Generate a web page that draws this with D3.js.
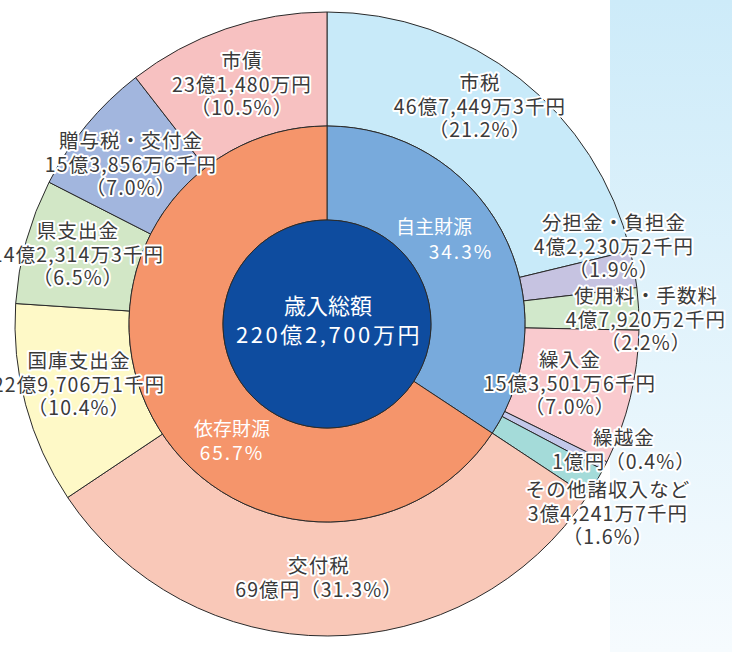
<!DOCTYPE html>
<html><head><meta charset="utf-8">
<script src="https://cdn.jsdelivr.net/npm/d3@7"></script>
<style>body{margin:0;background:#fff;} svg{display:block}</style>
</head><body><svg id="c" width="732" height="652"></svg>
<script>
// ---- data ----
const groups = ["自主財源", "依存財源"];
const groupPct = ["34.3%", "65.7%"];
const items = ["市税", "分担金・負担金", "使用料・手数料", "繰入金", "繰越金", "その他諸収入など",
               "交付税", "国庫支出金", "県支出金", "贈与税・交付金", "市債"];
const itemGroup = [0, 0, 0, 0, 0, 0, 1, 1, 1, 1, 1];
// values in 万円
const values = [467449.3, 42230.2, 47920.2, 153501.6, 10000, 34241.7,
                690000, 229706.1, 142314.3, 153856.6, 231480];
const amountLabels = ["46億7,449万3千円", "4億2,230万2千円", "4億7,920万2千円", "15億3,501万6千円", "1億円", "3億4,241万7千円",
                      "69億円", "22億9,706万1千円", "14億2,314万3千円", "15億3,856万6千円", "23億1,480万円"];
const pctLabels = ["21.2%", "1.9%", "2.2%", "7.0%", "0.4%", "1.6%", "31.3%", "10.4%", "6.5%", "7.0%", "10.5%"];
const totalLabel = ["歳入総額", "220億2,700万円"];

// ---- layout / style ----
const W = 732, H = 652, cx = 327, cy = 324;
const R0 = 104, R1 = 198, R2 = 312;
const itemColors = ["#c8eaf9", "#c6c3e1", "#d1e8cb", "#f9cace", "#c3c8ea", "#a4dbd9",
                    "#f9c8b8", "#fef9c7", "#d2e7c6", "#a2b6de", "#f7c1c1"];
const groupColors = ["#78aadc", "#f5956b"];
const centerColor = "#0e4c9f";
// label anchor (center x, first baseline y) and whether amount+pct share one line
const labelLayout = [
  [480, 90, false], [614, 230, false], [646, 303, false], [570, 367, false], [624, 445, true], [608, 497, false],
  [319, 573, true], [79, 368, false], [78, 238, false], [131, 148, false], [242, 68, false]
];
const groupLabelLayout = [[434, 234, 461, 259], [232, 436, 232, 460]];
const LH = 23.5;
const FONT = "'Noto Sans CJK JP','Noto Sans',sans-serif";

const svg = d3.select("#c");
const defs = svg.append("defs");
const grad = defs.append("linearGradient").attr("id", "bg").attr("x1", 0).attr("y1", 0).attr("x2", 0).attr("y2", 1);
grad.append("stop").attr("offset", "0%").attr("stop-color", "#cdebf9");
grad.append("stop").attr("offset", "100%").attr("stop-color", "#f6fbfe");
svg.append("rect").attr("width", W).attr("height", H).attr("fill", "#fff");
svg.append("rect").attr("x", 610).attr("y", 0).attr("width", W - 610).attr("height", H).attr("fill", "url(#bg)");

const g = svg.append("g").attr("transform", `translate(${cx},${cy})`);

const pie = d3.pie().sort(null).value(d => d);
const groupVals = groups.map((_, gi) => d3.sum(values.filter((v, i) => itemGroup[i] === gi)));

const outerArc = d3.arc().innerRadius(R1).outerRadius(R2);
const innerArc = d3.arc().innerRadius(R0).outerRadius(R1);

g.selectAll("path.outer").data(pie(values)).join("path")
  .attr("class", "outer").attr("d", outerArc)
  .attr("fill", (d, i) => itemColors[i]).attr("stroke", "#2a2a2a").attr("stroke-width", 1);

g.selectAll("path.inner").data(pie(groupVals)).join("path")
  .attr("class", "inner").attr("d", innerArc)
  .attr("fill", (d, i) => groupColors[i]).attr("stroke", "#2a2a2a").attr("stroke-width", 1);

g.append("circle").attr("r", R0).attr("fill", centerColor).attr("stroke", "#2a2a2a").attr("stroke-width", 1);

// center text
svg.append("text").attr("x", cx + 1).attr("y", 314).attr("text-anchor", "middle")
  .attr("font-family", FONT).attr("font-size", 22).attr("fill", "#fff").text(totalLabel[0]);
svg.append("text").attr("x", cx + 2).attr("y", 343).attr("text-anchor", "middle")
  .attr("font-family", FONT).attr("font-size", 22).attr("letter-spacing", 2.6).attr("fill", "#fff").text(totalLabel[1]);

// group labels
groups.forEach((name, i) => {
  const L = groupLabelLayout[i];
  svg.append("text").attr("x", L[0]).attr("y", L[1]).attr("text-anchor", "middle")
    .attr("font-family", FONT).attr("font-size", 19).attr("fill", "#fff").text(name);
  svg.append("text").attr("x", L[2]).attr("y", L[3]).attr("text-anchor", "middle")
    .attr("font-family", FONT).attr("font-size", 19).attr("fill", "#fff").attr("letter-spacing", 2).text(groupPct[i]);
});

// item labels
items.forEach((name, i) => {
  const [x, y, oneLine] = labelLayout[i];
  const lines = oneLine ? [name, amountLabels[i] + "（" + pctLabels[i] + "）"]
                        : [name, amountLabels[i], "（" + pctLabels[i] + "）"];
  const t = svg.append("text").attr("text-anchor", "middle")
    .attr("font-family", FONT).attr("font-size", 19.5).attr("fill", "#3a3a3a")
    .attr("letter-spacing", 1.1)
    .attr("stroke", "#fff").attr("stroke-width", 4).attr("stroke-linejoin", "round")
    .attr("paint-order", "stroke");
  lines.forEach((ln, k) => {
    t.append("tspan").attr("x", x).attr("y", y + k * LH).text(ln);
  });
});
</script>
</body></html>
